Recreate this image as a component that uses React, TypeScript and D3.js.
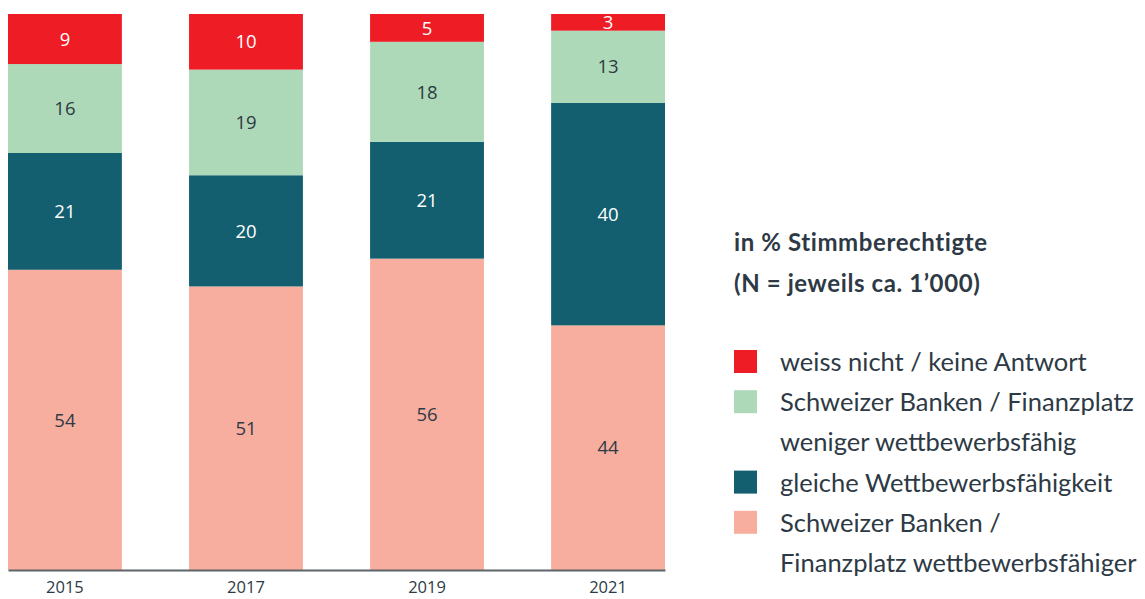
import React, { useEffect, useRef } from "react";
import * as d3 from "d3";

const years = ["2015", "2017", "2019", "2021"];
const keys = ["positiv", "gleich", "weniger", "weissNicht"];
const positiv = [54, 51, 56, 44];
const gleich = [21, 20, 21, 40];
const weniger = [16, 19, 18, 13];
const weissNicht = [9, 10, 5, 3];

const colors = ["#f7ae9f", "#135f70", "#aed9b8", "#ee1c25"];
const labelColors = ["#2d3a45", "#ffffff", "#2d3a45", "#ffffff"];

const titleLines = ["in % Stimmberechtigte", "(N = jeweils ca. 1’000)"];
// legend entries top-down, with the line breaks as in the original
const legendItems = [
  { key: "weissNicht", lines: ["weiss nicht / keine Antwort"] },
  { key: "weniger", lines: ["Schweizer Banken / Finanzplatz", "weniger wettbewerbsfähig"] },
  { key: "gleich", lines: ["gleiche Wettbewerbsfähigkeit"] },
  { key: "positiv", lines: ["Schweizer Banken /", "Finanzplatz wettbewerbsfähiger"] },
];

const W = 1145;
const H = 599;
const textColor = "#2d3a45";

const App = () => {
  const ref = useRef<SVGSVGElement>(null);

  useEffect(() => {
    const svg = d3.select(ref.current);
    svg.selectAll("*").remove();

    const rows = years.map((year, i) => ({
      year,
      positiv: positiv[i],
      gleich: gleich[i],
      weniger: weniger[i],
      weissNicht: weissNicht[i],
    }));

    const x = d3.scaleBand().domain(years).range([8, 665]).paddingInner(0.371).paddingOuter(0);
    const y = d3.scaleLinear().domain([0, 100]).range([570, 14]);
    const color = d3.scaleOrdinal<string, string>().domain(keys).range(colors);
    const labelColor = d3.scaleOrdinal<string, string>().domain(keys).range(labelColors);

    const stack = d3.stack<any>().keys(keys);
    const series = stack(rows);

    const layer = svg
      .selectAll("g.layer")
      .data(series)
      .enter()
      .append("g")
      .attr("class", "layer")
      .attr("fill", (d) => color(d.key));

    layer
      .selectAll("rect")
      .data((d) => d)
      .enter()
      .append("rect")
      .attr("x", (d: any) => x(d.data.year)!)
      .attr("y", (d) => y(d[1]))
      .attr("width", x.bandwidth())
      .attr("height", (d) => y(d[0]) - y(d[1]));

    // value labels
    series.forEach((s) => {
      svg
        .append("g")
        .selectAll("text")
        .data(s)
        .enter()
        .append("text")
        .attr("x", (d: any) => x(d.data.year)! + x.bandwidth() / 2)
        .attr("y", (d) => (y(d[0]) + y(d[1])) / 2)
        .attr("dy", "0.36em")
        .attr("text-anchor", "middle")
        .attr("font-family", "'Open Sans', sans-serif")
        .attr("font-size", 18.5)
        .attr("fill", labelColor(s.key))
        .text((d) => d[1] - d[0]);
    });

    // x axis
    const axis = svg
      .append("g")
      .attr("transform", `translate(0, ${y(0)})`)
      .call(d3.axisBottom(x).tickSize(0).tickPadding(11));
    axis.select(".domain").attr("stroke", "#5f6468").attr("stroke-width", 2);
    axis
      .selectAll("text")
      .attr("font-family", "'Open Sans', sans-serif")
      .attr("font-size", 16.5)
      .attr("fill", textColor);

    // legend title
    svg
      .append("g")
      .selectAll("text")
      .data(titleLines)
      .enter()
      .append("text")
      .attr("x", 734)
      .attr("y", (_, i) => 251 + i * 41)
      .attr("font-family", "Lato, sans-serif")
      .attr("font-weight", 700)
      .attr("font-size", 24)
      .attr("letter-spacing", 0.6)
      .attr("fill", textColor)
      .text((d) => d);

    // legend
    let line = 0;
    legendItems.forEach((item) => {
      const baseY = 371 + line * 40.2;
      svg
        .append("rect")
        .attr("x", 734)
        .attr("y", baseY - 21)
        .attr("width", 23)
        .attr("height", 23)
        .attr("fill", color(item.key));
      item.lines.forEach((t, j) => {
        svg
          .append("text")
          .attr("x", 780)
          .attr("y", baseY + j * 40.2)
          .attr("font-family", "Lato, sans-serif")
          .attr("font-size", 25.5)
          .attr("fill", textColor)
          .text(t);
      });
      line += item.lines.length;
    });
  }, []);

  return (
    <svg
      ref={ref}
      width={W}
      height={H}
      style={{ position: "absolute", left: 0, top: 0, background: "#fff" }}
    />
  );
};

export default App;
